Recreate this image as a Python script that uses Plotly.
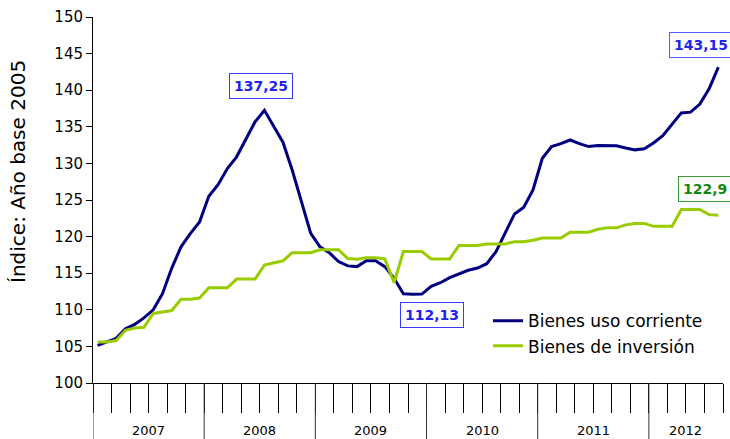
import plotly.graph_objects as go

years = ["2007", "2008", "2009", "2010", "2011", "2012"]
months_per_year = [12, 12, 12, 12, 12, 8]
months = [f"{y}-{m:02d}" for y, n in zip(years, months_per_year) for m in range(1, n + 1)]

consumo = [105.13, 105.6, 106.1, 107.4, 108.0, 108.9, 110.0, 112.2, 115.7, 118.6, 120.4, 122.0,
           125.5, 127.1, 129.3, 130.9, 133.4, 135.7, 137.25, 135.1, 132.9, 129.1, 124.8, 120.45,
           118.6, 117.8, 116.6, 116.0, 115.9, 116.7, 116.7, 115.9, 114.3, 112.2, 112.13, 112.15,
           113.2, 113.7, 114.4, 114.9, 115.4, 115.7, 116.3, 117.95, 120.45, 123.1, 124.0, 126.4,
           130.7, 132.3, 132.7, 133.2, 132.7, 132.3, 132.45, 132.45, 132.4, 132.1, 131.85, 132.0,
           132.8, 133.8, 135.4, 136.9, 137.0, 138.1, 140.2, 143.15]

inversion = [105.6, 105.6, 105.8, 107.2, 107.5, 107.6, 109.5, 109.7, 109.9, 111.45, 111.45, 111.6,
             113.0, 113.0, 113.0, 114.2, 114.2, 114.2, 116.1, 116.4, 116.7, 117.8, 117.8, 117.8,
             118.2, 118.2, 118.2, 117.0, 116.9, 117.1, 117.1, 116.95, 113.7, 117.95, 117.95, 117.95,
             116.95, 116.95, 116.95, 118.8, 118.8, 118.8, 119.0, 119.0, 119.0, 119.3, 119.3, 119.5,
             119.8, 119.8, 119.8, 120.6, 120.6, 120.6, 121.0, 121.2, 121.2, 121.6, 121.8, 121.8,
             121.4, 121.4, 121.4, 123.7, 123.7, 123.7, 123.0, 122.9]

names = ["Bienes uso corriente", "Bienes de inversión"]
colors = ["#000080", "#99CC00"]
y_title = "Índice: Año base 2005"

FONT = "DejaVu Sans"

fig = go.Figure()
for name, vals, col in zip(names, [consumo, inversion], colors):
    fig.add_trace(go.Scatter(x=months, y=vals, mode="lines", name=name,
                             line=dict(color=col, width=3)))

def fmt(v):
    s = f"{v:.2f}".rstrip("0").rstrip(".")
    return s.replace(".", ",")

# data labels
i_max = max(range(36), key=lambda i: consumo[i])
i_min = min(range(24, 48), key=lambda i: consumo[i])
i_last = len(consumo) - 1
labels = [
    (i_max, consumo[i_max], "#2222EE", "#3a3aff", -3, 24),
    (i_min, consumo[i_min], "#2222EE", "#3a3aff", 19, -21),
    (i_last, consumo[i_last], "#2222EE", "#5a5aff", -17, 22),
    (i_last, inversion[i_last], "#118811", "#3a9a3a", -13, 26),
]
for i, v, tc, bc, xs, ys in labels:
    fig.add_annotation(x=months[i], y=v, xref="x", yref="y", text=fmt(v), showarrow=False,
                       xshift=xs, yshift=ys,
                       font=dict(family=FONT, size=14, color=tc, weight="bold"),
                       bordercolor=bc, borderwidth=1, borderpad=4, bgcolor="white")

# year separators and year labels
start = 0
for y, n in zip(years, months_per_year):
    fig.add_shape(type="line", xref="x", yref="paper", x0=start - 0.5, x1=start - 0.5,
                  y0=0, y1=-0.2, line=dict(color="#333333", width=1))
    fig.add_annotation(x=start + (n - 1) / 2, y=0, xref="x", yref="paper", yshift=-47,
                       text=y, showarrow=False, yanchor="middle",
                       font=dict(family=FONT, size=13, color="black"))
    start += n

# y axis title
fig.add_annotation(x=0, y=0.5, xref="paper", yref="paper", xshift=-75, yshift=28, text=y_title,
                   textangle=-90, showarrow=False, xanchor="center", yanchor="middle",
                   font=dict(family=FONT, size=20, color="black"))

fig.update_layout(
    width=730, height=439,
    margin=dict(l=93, r=7, t=17, b=56, autoexpand=False),
    paper_bgcolor="white", plot_bgcolor="white",
    font=dict(family=FONT, size=15, color="black"),
    showlegend=True,
    legend=dict(x=0.627, y=0.218, xanchor="left", yanchor="top",
                bgcolor="rgba(0,0,0,0)", font=dict(family=FONT, size=17, color="black"),
                tracegroupgap=0),
    xaxis=dict(type="category", range=[-0.5, len(months) - 0.5], tickson="boundaries",
               ticks="outside", ticklen=29, tickcolor="black", showticklabels=False,
               showline=True, linecolor="black", linewidth=1, showgrid=False, zeroline=False,
               automargin=False),
    yaxis=dict(range=[100, 150], dtick=5, tick0=100, ticks="outside", ticklen=6,
               tickcolor="black", showline=True, linecolor="black", linewidth=1,
               showgrid=False, zeroline=False, automargin=False,
               tickfont=dict(family=FONT, size=15, color="black")),
)

fig.write_html("out.html", config={"displayModeBar": False},
               post_script="document.body.style.margin='0';document.body.style.overflow='hidden';")
